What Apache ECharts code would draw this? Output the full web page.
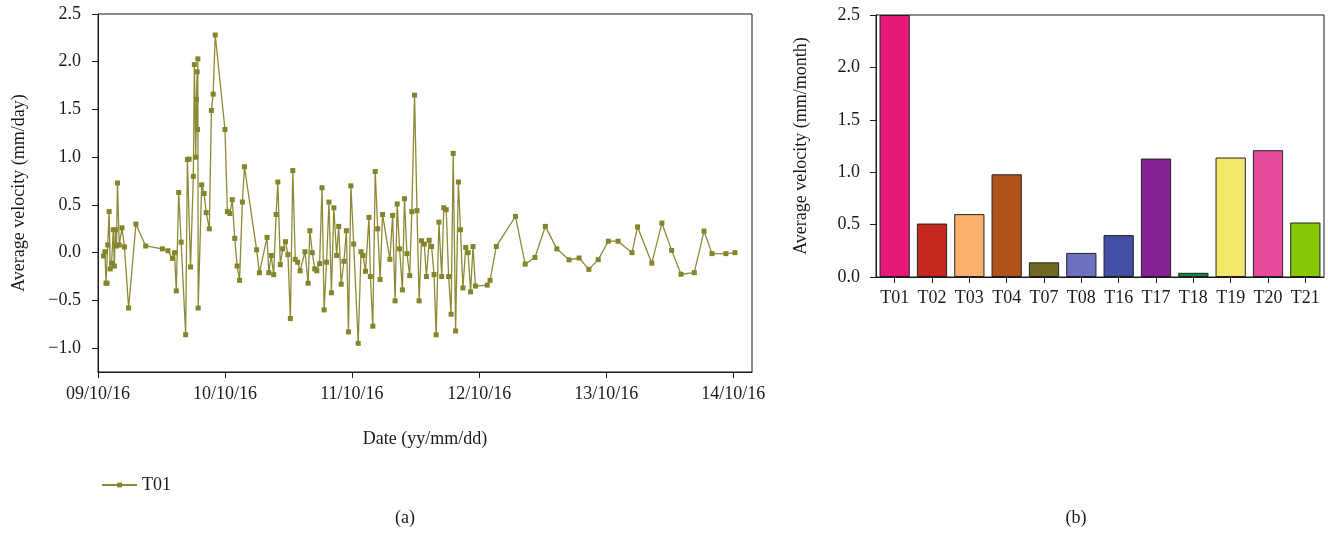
<!DOCTYPE html>
<html>
<head>
<meta charset="utf-8">
<script src="https://cdn.jsdelivr.net/npm/echarts@6/dist/echarts.min.js"></script>
<style>
  html, body { margin: 0; padding: 0; background: #fff; }
  #chart { width: 1328px; height: 533px; }
</style>
</head>
<body>
<div id="chart"></div>
<script>
// (a) Daily average velocity of station T01
const dates = [
  '2009-11-01','2009-11-05','2009-11-08','2009-11-11','2009-11-13','2009-11-17','2009-11-20','2009-11-24',
  '2009-11-29','2009-12-02','2009-12-05','2009-12-08','2009-12-11','2009-12-16','2009-12-24','2009-12-31',
  '2010-01-12','2010-02-02','2010-03-02','2010-04-19','2010-05-05','2010-05-18','2010-05-24','2010-05-29',
  '2010-06-05','2010-06-12','2010-06-25','2010-06-30','2010-07-05','2010-07-09','2010-07-17','2010-07-20',
  '2010-07-24','2010-07-26','2010-07-28','2010-07-29','2010-07-30','2010-07-31','2010-08-10','2010-08-17',
  '2010-08-23','2010-09-01','2010-09-07','2010-09-12','2010-09-18','2010-10-16','2010-10-23','2010-10-30',
  '2010-11-06','2010-11-13','2010-11-20','2010-11-27','2010-12-05','2010-12-11','2011-01-15','2011-01-23',
  '2011-02-14','2011-02-19','2011-02-26','2011-03-05','2011-03-12','2011-03-17','2011-03-24','2011-03-31',
  '2011-04-08','2011-04-15','2011-04-22','2011-04-29','2011-05-06','2011-05-13','2011-05-20','2011-06-03',
  '2011-06-12','2011-06-17','2011-06-24','2011-07-01','2011-07-07','2011-07-15','2011-07-22','2011-07-28',
  '2011-08-04','2011-08-11','2011-08-18','2011-08-25','2011-09-02','2011-09-08','2011-09-15','2011-09-23',
  '2011-09-30','2011-10-06','2011-10-13','2011-10-21','2011-11-03','2011-11-11','2011-11-17','2011-11-24',
  '2011-12-04','2011-12-08','2011-12-15','2011-12-22','2011-12-29','2012-01-05','2012-01-12','2012-02-02',
  '2012-02-10','2012-02-17','2012-02-23','2012-03-01','2012-03-09','2012-03-15','2012-03-22','2012-03-30',
  '2012-04-05','2012-04-13','2012-04-20','2012-04-26','2012-05-03','2012-05-11','2012-05-17','2012-05-25',
  '2012-06-01','2012-06-08','2012-06-14','2012-06-22','2012-06-30','2012-07-06','2012-07-13','2012-07-20',
  '2012-07-27','2012-08-02','2012-08-09','2012-08-17','2012-08-23','2012-08-30','2012-09-07','2012-09-14',
  '2012-09-21','2012-09-28','2012-10-05','2012-11-08','2012-11-16','2012-12-04','2013-01-28','2013-02-25',
  '2013-03-25','2013-04-24','2013-05-27','2013-07-01','2013-07-30','2013-08-27','2013-09-23','2013-10-22',
  '2013-11-19','2013-12-29','2014-01-14','2014-02-24','2014-03-25','2014-04-22','2014-05-19','2014-06-26',
  '2014-07-24','2014-08-16','2014-09-25','2014-10-21'
];
const velocity = [
  -0.035, 0.01, -0.32, -0.32, 0.08, 0.43, -0.17, -0.11,
  0.24, -0.14, 0.24, 0.07, 0.73, 0.08, 0.26, 0.06,
  -0.58, 0.30, 0.07, 0.04, 0.02, -0.06, 0.0, -0.40,
  0.63, 0.11, -0.86, 0.975, 0.98, -0.15, 0.80, 1.97,
  1.00, 1.605, 1.895, 1.29, 2.03, -0.58, 0.71, 0.62,
  0.42, 0.25, 1.49, 1.66, 2.28, 1.29, 0.43, 0.41,
  0.555, 0.15, -0.14, -0.29, 0.53, 0.90, 0.03, -0.21,
  0.16, -0.21, -0.03, -0.23, 0.40, 0.74, -0.125, 0.04,
  0.115, -0.02, -0.69, 0.86, -0.07, -0.10, -0.19, 0.01,
  -0.32, 0.23, 0.0, -0.17, -0.19, -0.115, 0.68, -0.60,
  -0.10, 0.53, -0.42, 0.47, -0.03, 0.275, -0.33, -0.09,
  0.23, -0.83, 0.70, 0.09, -0.95, 0.01, -0.03, -0.195,
  0.37, -0.25, -0.77, 0.85, 0.25, -0.28, 0.40, -0.07,
  0.39, -0.505, 0.51, 0.04, -0.39, 0.565, -0.01, -0.24,
  0.43, 1.65, 0.44, -0.505, 0.125, 0.09, -0.25, 0.13,
  0.065, -0.23, -0.86, 0.32, -0.25, 0.47, 0.45, -0.25,
  -0.645, 1.04, -0.82, 0.74, 0.24, -0.37, 0.055, 0.0,
  -0.41, 0.065, -0.35, -0.34, -0.29, 0.065, 0.38, -0.12,
  -0.05, 0.275, 0.04, -0.075, -0.056, -0.175, -0.073, 0.12,
  0.12, 0.0, 0.27, -0.11, 0.31, 0.024, -0.226, -0.21,
  0.226, -0.01, -0.01, 0.0
];
const dateTicks = ['2009-10-16','2010-10-16','2011-10-16','2012-10-16','2013-10-16','2014-10-16'];
const dailyTicks = [-1.0, -0.5, 0.0, 0.5, 1.0, 1.5, 2.0, 2.5];

// (b) Monthly average velocity per station
const stations = ['T01','T02','T03','T04','T07','T08','T16','T17','T18','T19','T20','T21'];
const monthlyVelocity = [2.5, 0.51, 0.60, 0.98, 0.14, 0.23, 0.40, 1.13, 0.04, 1.14, 1.21, 0.52];
const stationColors = ['#e5197a','#c4281f','#fbb16b','#af521b','#6e6a24','#6a72c0','#434ea6','#862196','#0a8a3a','#f3e86b','#e74a98','#86c806'];

const FONT = 'Liberation Serif';
const INK = '#1a1a1a';

// dates are handled as day-resolution timestamps on a numeric axis
function toTime(s) {
  const p = s.split('-').map(Number);
  return Date.UTC(p[0], p[1] - 1, p[2]);
}
function pad(n) { return (n < 10 ? '0' : '') + n; }
function fmtDate(v) {
  const d = new Date(v);
  return pad(d.getUTCFullYear() % 100) + '/' + pad(d.getUTCMonth() + 1) + '/' + pad(d.getUTCDate());
}
function fmtNum(v) {
  const s = Math.abs(v).toFixed(1);
  return v < -1e-9 ? '\u2212' + s : s;
}

const seriesData = dates.map((d, i) => [toTime(d), velocity[i]]);
const tickTimes = dateTicks.map(toTime);

const axisFont = { fontFamily: FONT, fontSize: 18, color: INK };

const chart = echarts.init(document.getElementById('chart'), null, { renderer: 'canvas' });
chart.setOption({
  animation: false,
  backgroundColor: '#fff',
  textStyle: { fontFamily: FONT },
  grid: [
    { left: 98, top: 14, right: 576, bottom: 161, show: true, borderColor: INK, borderWidth: 1 },
    { left: 876, top: 15, right: 4, bottom: 256, show: true, borderColor: INK, borderWidth: 1 }
  ],
  xAxis: [
    {
      type: 'value', gridIndex: 0,
      min: toTime('2009-10-16'), max: toTime('2014-12-09'),
      axisLine: { onZero: false, lineStyle: { color: INK, width: 1 } },
      axisTick: { show: true, inside: false, length: 6, customValues: tickTimes, lineStyle: { color: INK } },
      axisLabel: Object.assign({ customValues: tickTimes, formatter: fmtDate, margin: 13, hideOverlap: false }, axisFont),
      splitLine: { show: false },
      name: 'Date (yy/mm/dd)', nameLocation: 'middle', nameGap: 58,
      nameTextStyle: axisFont
    },
    {
      type: 'category', gridIndex: 1, data: stations,
      axisLine: { onZero: false, lineStyle: { color: INK, width: 1 } },
      axisTick: { show: true, alignWithLabel: true, length: 6, lineStyle: { color: INK } },
      axisLabel: Object.assign({ interval: 0, margin: 12 }, axisFont),
      splitLine: { show: false }
    }
  ],
  yAxis: [
    {
      type: 'value', gridIndex: 0, min: -1.25, max: 2.5,
      axisLine: { show: true, onZero: false, lineStyle: { color: INK, width: 1 } },
      axisTick: { show: true, length: 6, customValues: dailyTicks, lineStyle: { color: INK } },
      axisLabel: Object.assign({ customValues: dailyTicks, formatter: fmtNum, margin: 17 }, axisFont),
      splitLine: { show: false },
      name: 'Average velocity (mm/day)', nameLocation: 'middle', nameGap: 70, nameRotate: 90,
      nameTextStyle: axisFont
    },
    {
      type: 'value', gridIndex: 1, min: 0, max: 2.5, interval: 0.5,
      axisLine: { show: true, onZero: false, lineStyle: { color: INK, width: 1 } },
      axisTick: { show: true, length: 6, lineStyle: { color: INK } },
      axisLabel: Object.assign({ formatter: fmtNum, margin: 16 }, axisFont),
      splitLine: { show: false },
      name: 'Average velocity (mm/month)', nameLocation: 'middle', nameGap: 66, nameRotate: 90,
      nameTextStyle: axisFont
    }
  ],
  legend: {
    left: 96, top: 471,
    itemWidth: 35, itemHeight: 6, itemGap: 10,
    textStyle: axisFont,
    data: ['T01']
  },
  graphic: [
    { type: 'text', x: 405, y: 518, style: { text: '(a)', font: '18px "Liberation Serif"', fill: INK, align: 'center', verticalAlign: 'middle' } },
    { type: 'text', x: 1076, y: 518, style: { text: '(b)', font: '18px "Liberation Serif"', fill: INK, align: 'center', verticalAlign: 'middle' } }
  ],
  series: [
    {
      name: 'T01', type: 'line', xAxisIndex: 0, yAxisIndex: 0,
      data: seriesData,
      symbol: 'rect', symbolSize: 5, showAllSymbol: true,
      lineStyle: { color: '#8c8a35', width: 1.3 },
      itemStyle: { color: '#84842a' },
      emphasis: { disabled: true }
    },
    {
      name: 'stations', type: 'bar', xAxisIndex: 1, yAxisIndex: 1,
      data: monthlyVelocity.map((v, i) => ({ value: v, itemStyle: { color: stationColors[i] } })),
      barCategoryGap: '19%',
      itemStyle: { borderColor: '#222', borderWidth: 1 },
      emphasis: { disabled: true }
    }
  ]
});
</script>
</body>
</html>
